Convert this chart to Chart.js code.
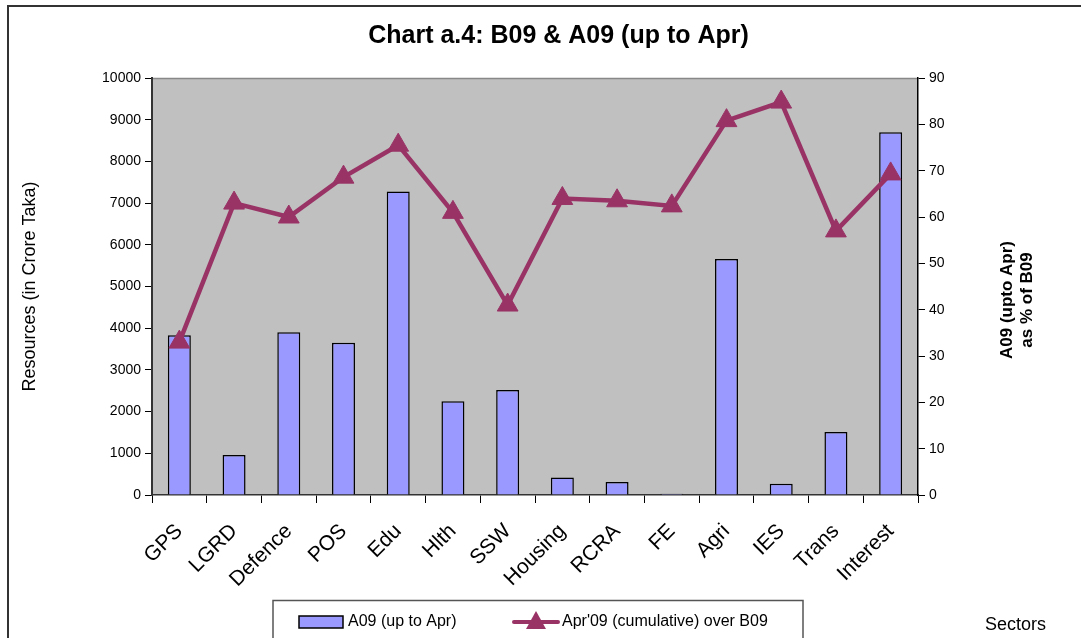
<!DOCTYPE html>
<html>
<head>
<meta charset="utf-8">
<title>Chart a.4</title>
<script src="https://cdn.jsdelivr.net/npm/chart.js@4"></script>
<style>
  html, body { margin: 0; padding: 0; background: #fff; }
  #wrap { width: 1081px; height: 638px; position: relative; }
</style>
</head>
<body>
<div id="wrap"><canvas id="chart" width="1081" height="638"></canvas></div>
<script>
// sectors on the x axis
const sectors = ['GPS', 'LGRD', 'Defence', 'POS', 'Edu', 'Hlth', 'SSW', 'Housing', 'RCRA', 'FE', 'Agri', 'IES', 'Trans', 'Interest'];
// A09 (up to Apr), crore taka
const a09 = [3830, 960, 3900, 3650, 7280, 2250, 2520, 420, 310, 30, 5660, 270, 1510, 8700];
// Apr'09 cumulative as % of B09
const pctOfB09 = [33, 63, 60, 68.6, 75.5, 61, 41, 64, 63.5, 62.4, 80.8, 84.8, 57, 69.3];
const leftTitle = 'Resources (in Crore Taka)';
const rightTitle = ['A09 (upto Apr)', 'as % of B09'];

const FONT = "'Liberation Sans', Arial, sans-serif";
const barColor = '#9999FF';
const lineColor = '#993366';

// grey plot area + outer frame + legend + axis titles
const excelLook = {
    id: 'excelLook',
    beforeDraw(chart) {
        const { ctx, chartArea: { left, top, width, height } } = chart;
        ctx.save();
        ctx.fillStyle = '#C0C0C0';
        ctx.fillRect(left, top, width, height);
        ctx.strokeStyle = '#888888';
        ctx.lineWidth = 1.5;
        ctx.beginPath();
        ctx.moveTo(left, top + 0.5);
        ctx.lineTo(left + width, top + 0.5);
        ctx.stroke();
        // outer frame
        ctx.strokeStyle = '#333333';
        ctx.lineWidth = 2;
        ctx.beginPath();
        ctx.moveTo(8, 700);
        ctx.lineTo(8, 6);
        ctx.lineTo(1090, 6);
        ctx.stroke();
        ctx.restore();
    },
    afterDraw(chart) {
        const { ctx, chartArea } = chart;
        const bars = chart.data.datasets.find(d => d.type === 'bar');
        const line = chart.data.datasets.find(d => d.type === 'line');
        const midY = (chartArea.top + chartArea.bottom) / 2;
        ctx.save();
        // legend box
        ctx.strokeStyle = '#555555';
        ctx.lineWidth = 1.5;
        ctx.beginPath();
        ctx.moveTo(273, 645);
        ctx.lineTo(273, 600.5);
        ctx.lineTo(803, 600.5);
        ctx.lineTo(803, 645);
        ctx.stroke();
        // bar swatch
        ctx.fillStyle = barColor;
        ctx.fillRect(299, 616, 44, 12);
        ctx.strokeStyle = '#000';
        ctx.lineWidth = 1.5;
        ctx.strokeRect(299, 616, 44, 12);
        ctx.fillStyle = '#000';
        ctx.font = '16px ' + FONT;
        ctx.textBaseline = 'middle';
        ctx.fillText(bars.label, 348, 622);
        // line swatch
        ctx.strokeStyle = lineColor;
        ctx.lineWidth = 4;
        ctx.lineCap = 'round';
        ctx.beginPath();
        ctx.moveTo(514, 622);
        ctx.lineTo(558, 622);
        ctx.stroke();
        ctx.fillStyle = lineColor;
        ctx.beginPath();
        ctx.moveTo(536, 611);
        ctx.lineTo(546, 629);
        ctx.lineTo(526, 629);
        ctx.closePath();
        ctx.fill();
        ctx.fillStyle = '#000';
        ctx.fillText(line.label, 562, 622);
        // x axis title, Excel style at the bottom right
        ctx.font = '18px ' + FONT;
        ctx.fillText('Sectors', 985, 625);
        ctx.textAlign = 'center';
        // left axis title
        ctx.save();
        ctx.translate(30, midY);
        ctx.rotate(-Math.PI / 2);
        ctx.font = '18px ' + FONT;
        ctx.fillText(leftTitle, 0, 0);
        ctx.restore();
        // right axis title, reading bottom to top
        ctx.translate(1017, 300);
        ctx.rotate(-Math.PI / 2);
        ctx.font = 'bold 17px ' + FONT;
        ctx.fillText(rightTitle[0], 0, -10);
        ctx.fillText(rightTitle[1], 0, 10);
        ctx.restore();
    }
};

const plainTick = v => String(v);

new Chart(document.getElementById('chart').getContext('2d'), {
    data: {
        labels: sectors,
        datasets: [{
            type: 'line',
            label: "Apr'09 (cumulative) over B09",
            data: pctOfB09,
            yAxisID: 'y1',
            order: 0,
            borderColor: lineColor,
            backgroundColor: lineColor,
            borderWidth: 4.5,
            tension: 0,
            pointStyle: 'triangle',
            pointRadius: 12,
            pointBorderWidth: 1,
            pointBackgroundColor: lineColor,
            pointBorderColor: lineColor
        }, {
            type: 'bar',
            label: 'A09 (up to Apr)',
            data: a09,
            yAxisID: 'y',
            order: 1,
            backgroundColor: barColor,
            borderColor: '#000',
            borderWidth: 1.5,
            barPercentage: 0.42,
            categoryPercentage: 1
        }]
    },
    options: {
        responsive: false,
        animation: false,
        layout: { padding: { left: 44, right: 8, top: 0, bottom: 0 } },
        plugins: {
            legend: { display: false },
            tooltip: { enabled: false },
            title: {
                display: true,
                text: 'Chart a.4: B09 & A09 (up to Apr)',
                color: '#000',
                font: { family: FONT, size: 25, weight: 'bold' },
                padding: { top: 21, bottom: 27 }
            }
        },
        scales: {
            x: {
                offset: true,
                grid: { display: true, drawOnChartArea: false, offset: true, color: '#000', tickLength: 8, lineWidth: 1 },
                border: { display: true, color: '#333', width: 1.5 },
                ticks: {
                    color: '#000',
                    font: { family: FONT, size: 21 },
                    maxRotation: 45,
                    minRotation: 45,
                    autoSkip: false,
                    padding: 16
                },
                afterFit(scale) { scale.height = 143; }
            },
            y: {
                position: 'left',
                min: 0,
                max: 10000,
                ticks: {
                    stepSize: 1000,
                    color: '#000',
                    font: { family: FONT, size: 14 },
                    padding: 4,
                    callback: plainTick
                },
                grid: { drawOnChartArea: false, color: '#000', tickLength: 7 },
                border: { display: true, color: '#333', width: 2 },
                afterFit(scale) { scale.width = 108; }
            },
            y1: {
                position: 'right',
                min: 0,
                max: 90,
                ticks: {
                    stepSize: 10,
                    color: '#000',
                    font: { family: FONT, size: 14 },
                    padding: 4,
                    callback: plainTick
                },
                grid: { drawOnChartArea: false, color: '#000', tickLength: 7 },
                border: { display: true, color: '#000', width: 1.5 },
                afterFit(scale) { scale.width = 155; }
            }
        }
    },
    plugins: [excelLook]
});
</script>
</body>
</html>
